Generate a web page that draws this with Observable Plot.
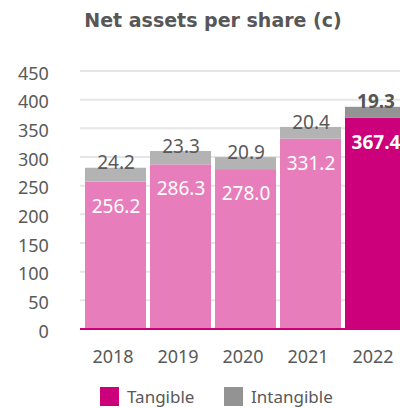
<!DOCTYPE html>
<html>
<head>
<meta charset="utf-8">
<script src="https://cdn.jsdelivr.net/npm/d3@7"></script>
<script src="https://cdn.jsdelivr.net/npm/@observablehq/plot@0.6"></script>
<style>
  html, body { margin: 0; padding: 0; background: #fff; }
  body { width: 400px; height: 408px; overflow: hidden; position: relative; }
  #title { height: 40px; line-height: 40px; width: 374px; padding-left: 26px; text-align: center;
           font-family: "DejaVu Sans", sans-serif; font-weight: bold; font-size: 19px; color: #575757; }
  #chart svg { display: block; max-width: none; }
  #legend { position: relative; height: 28px; font-family: "Noto Sans", sans-serif; font-size: 17px; color: #595959; }
  .item { position: absolute; top: 7px; display: flex; align-items: center; height: 19px; }
  .sw { width: 19px; height: 19px; margin-right: 8px; }
</style>
</head>
<body>
<div id="title">Net assets per share (c)</div>
<div id="chart"></div>
<div id="legend"></div>
<script>
const years = ["2018", "2019", "2020", "2021", "2022"];
const tangible = [256.2, 286.3, 278.0, 331.2, 367.4];
const intangible = [24.2, 23.3, 20.9, 20.4, 19.3];
const yTicks = [0, 50, 100, 150, 200, 250, 300, 350, 400, 450];
const seriesNames = ["Tangible", "Intangible"];

const colors = {
  tangibleLight: "#e87dbb",
  tangibleDark: "#cc007a",
  intangibleLight: "#b3b3b3",
  intangibleDark: "#939393",
  text: "#595959",
  grid: "#e6e6e6"
};

const last = years.length - 1;
const rows = [];
years.forEach((yr, i) => {
  rows.push({year: yr, y1: 0, y2: tangible[i],
             fill: i === last ? colors.tangibleDark : colors.tangibleLight});
  rows.push({year: yr, y1: tangible[i], y2: tangible[i] + intangible[i],
             fill: i === last ? colors.intangibleDark : colors.intangibleLight});
});
const labels = years.map((yr, i) => ({year: yr, t: tangible[i], total: tangible[i] + intangible[i],
                                       tl: tangible[i].toFixed(1), il: intangible[i].toFixed(1), last: i === last}));

const plot = Plot.plot({
  width: 412,
  height: 340,
  marginTop: 30.5,
  marginBottom: 51.5,
  marginLeft: 80,
  marginRight: 0.5,
  style: {fontFamily: "Noto Sans, sans-serif", background: "#fff"},
  x: {type: "band", domain: years, paddingInner: 0.064, paddingOuter: 0.064, label: null},
  y: {domain: [0, 450], label: null},
  color: {type: "identity"},
  marks: [
    Plot.ruleY(yTicks.slice(1), {stroke: colors.grid, strokeWidth: 2}),
    Plot.barY(rows, {x: "year", y1: "y1", y2: "y2", fill: "fill"}),
    Plot.ruleY([0], {stroke: colors.tangibleDark, strokeWidth: 2}),
    Plot.axisY({ticks: yTicks, tickSize: 0, tickPadding: 31.7, dy: 3, fontSize: 18, fill: colors.text, label: null}),
    Plot.axisX({tickSize: 0, tickPadding: 21.5, dx: -3, fontSize: 18, fill: colors.text, label: null}),
    Plot.text(labels.filter(d => !d.last), {x: "year", y: "t", text: "tl", dy: 24.3, fill: "#fff", fontSize: 19}),
    Plot.text(labels.filter(d => d.last), {x: "year", y: "t", text: "tl", dy: 24.3, fill: "#fff", fontSize: 19, fontWeight: "bold"}),
    Plot.text(labels.filter(d => !d.last), {x: "year", y: "total", text: "il", dy: -5, fill: colors.text, fontSize: 19}),
    Plot.text(labels.filter(d => d.last), {x: "year", y: "total", text: "il", dy: -5, fill: "#555", fontSize: 19, fontWeight: "bold"})
  ]
});
document.getElementById("chart").appendChild(plot);

const legend = document.getElementById("legend");
const legendColors = [colors.tangibleDark, colors.intangibleDark];
const legendLeft = [100, 224];
seriesNames.forEach((name, i) => {
  const it = document.createElement("div");
  it.className = "item";
  it.style.left = legendLeft[i] + "px";
  const sw = document.createElement("div");
  sw.className = "sw";
  sw.style.background = legendColors[i];
  const tx = document.createElement("span");
  tx.textContent = name;
  it.appendChild(sw);
  it.appendChild(tx);
  legend.appendChild(it);
});
</script>
</body>
</html>
